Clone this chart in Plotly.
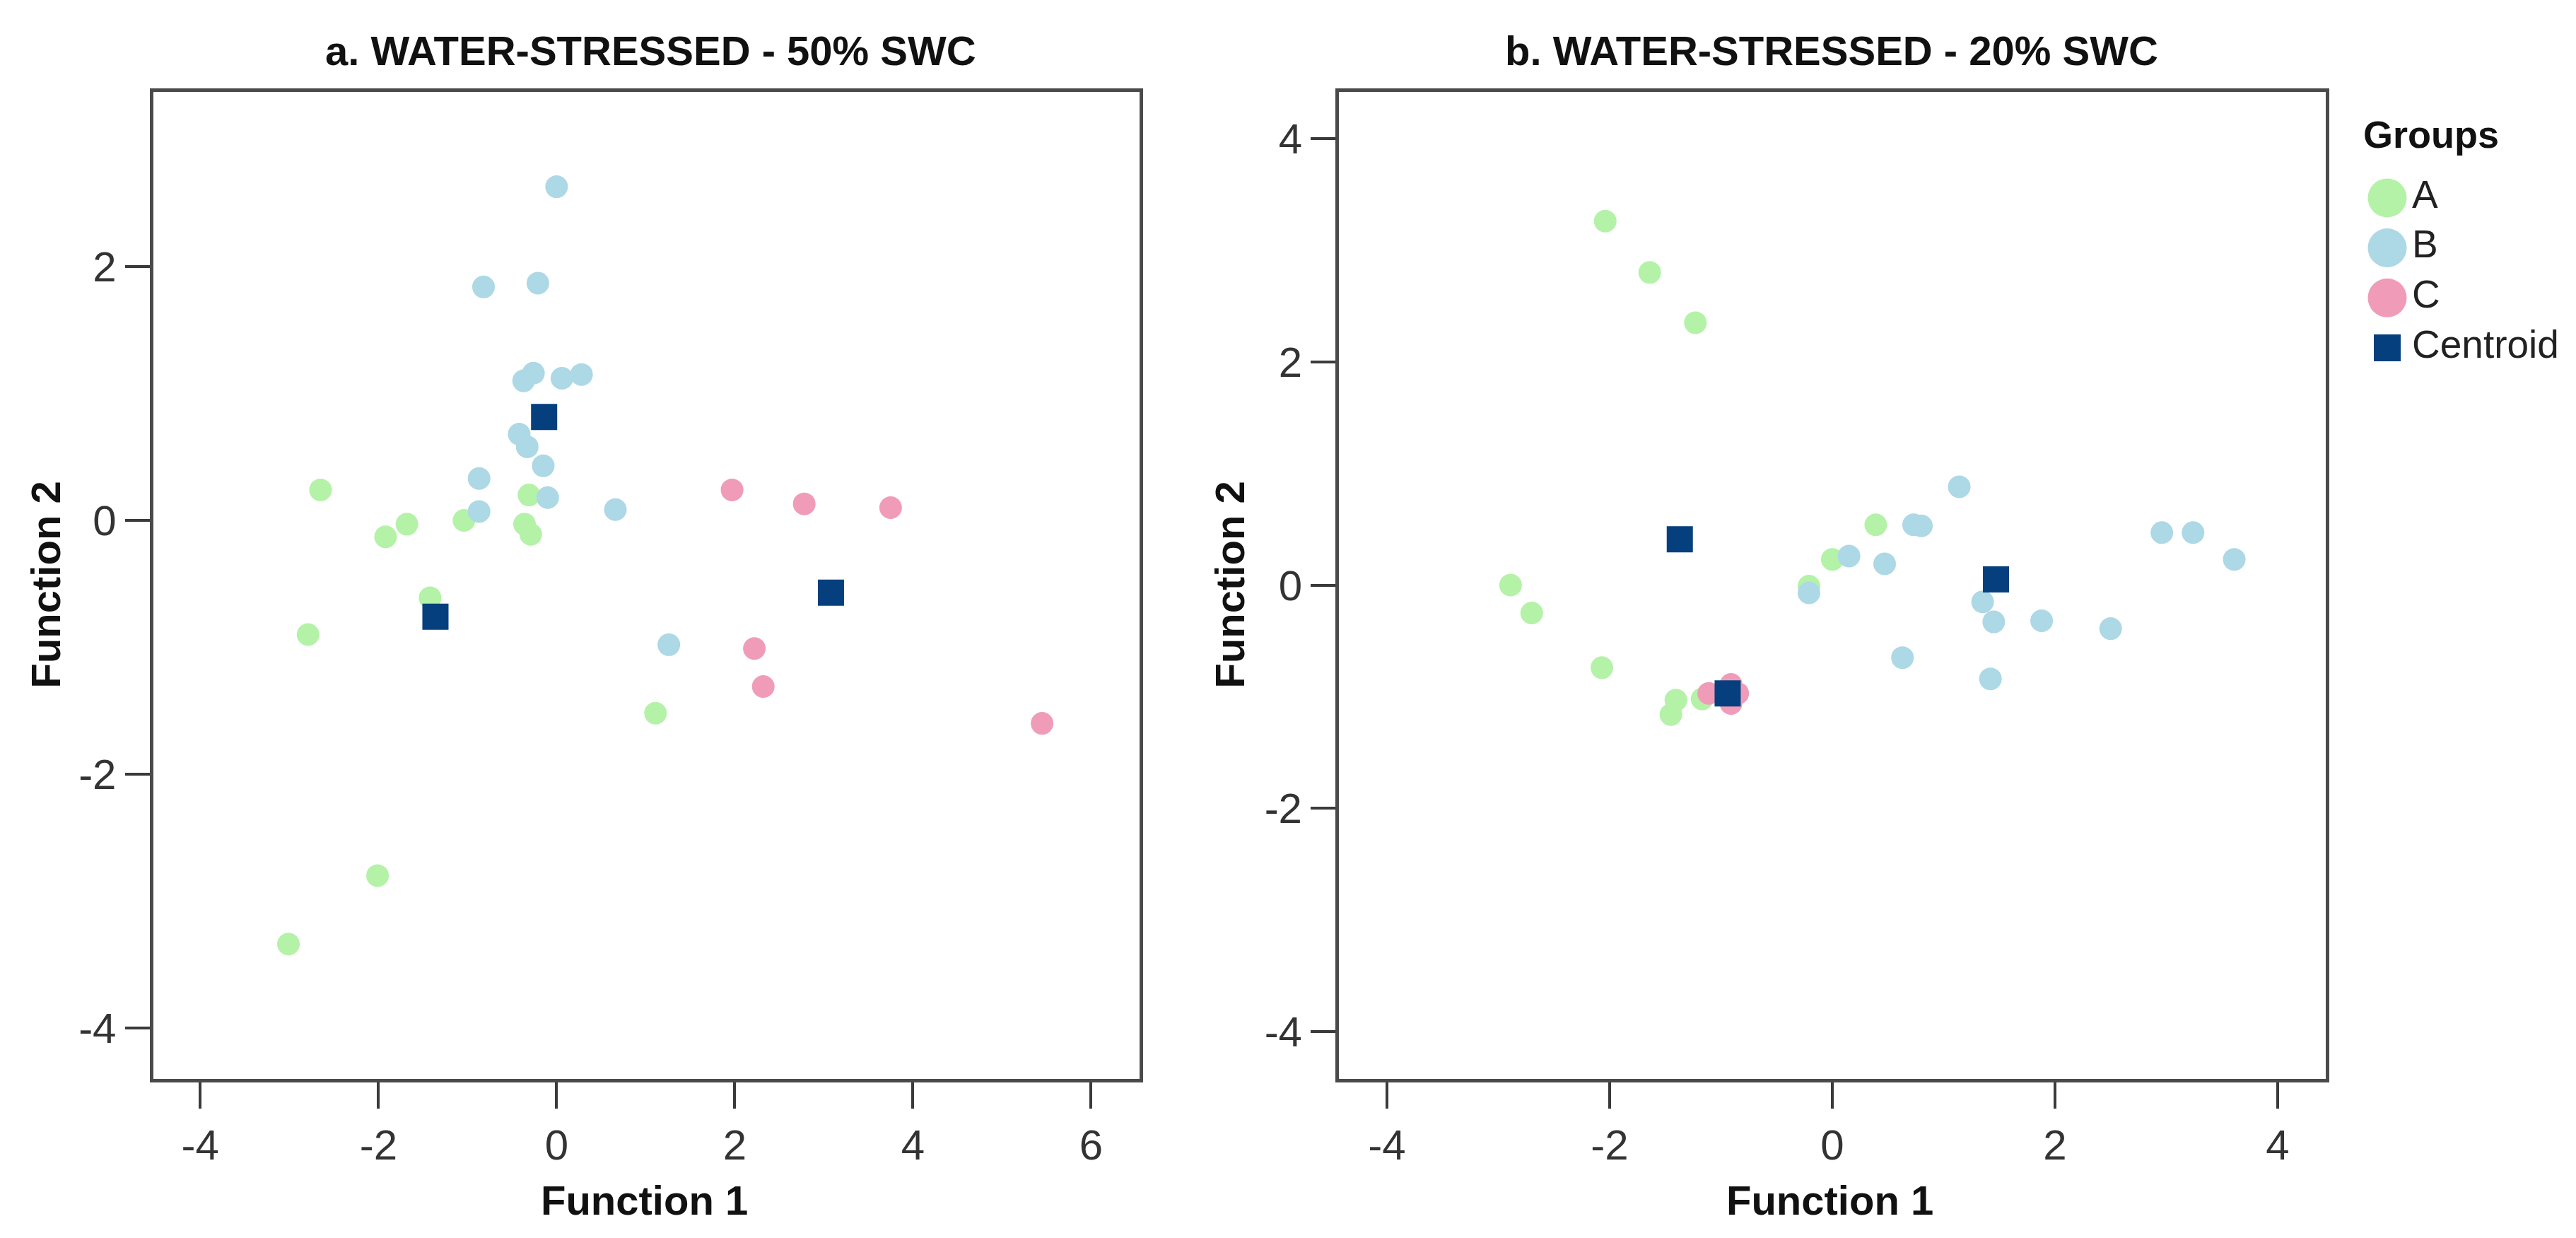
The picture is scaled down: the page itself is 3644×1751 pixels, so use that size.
import plotly.graph_objects as go

# ------------------------------------------------------------------
# Data
# ------------------------------------------------------------------
groups = ["A", "B", "C"]
legend_items = ["A", "B", "C", "Centroid"]

# a. WATER-STRESSED - 50% SWC
a_A_x = [-2.65, -0.31, -1.68, -1.92, -1.04, -0.36, -0.29, -1.42, -2.79, 1.11, -2.01, -3.01]
a_A_y = [0.24, 0.20, -0.03, -0.13, 0.00, -0.03, -0.11, -0.61, -0.90, -1.52, -2.80, -3.34]
a_B_x = [0.00, -0.82, -0.21, -0.37, -0.26, 0.06, 0.28, -0.42, -0.33, -0.15, -0.87, -0.10, -0.87, 0.66, 1.26]
a_B_y = [2.63, 1.84, 1.87, 1.10, 1.16, 1.12, 1.15, 0.68, 0.58, 0.43, 0.33, 0.18, 0.07, 0.085, -0.98]
a_C_x = [1.97, 2.78, 3.75, 2.22, 2.32, 5.45]
a_C_y = [0.24, 0.13, 0.10, -1.01, -1.31, -1.60]
a_cent_x = [-1.36, -0.14, 3.08]
a_cent_y = [-0.76, 0.815, -0.57]

# b. WATER-STRESSED - 20% SWC
b_A_x = [-2.04, -1.64, -1.23, 0.39, 0.00, -2.89, -2.70, -0.21, -2.07, -1.405, -1.45, -1.17]
b_A_y = [3.26, 2.80, 2.35, 0.54, 0.23, 0.00, -0.25, -0.01, -0.74, -1.03, -1.16, -1.02]
b_B_x = [1.14, 0.73, 0.80, 0.15, 0.47, -0.21, 2.96, 3.24, 3.61, 1.35, 1.45, 1.88, 2.50, 0.63, 1.42]
b_B_y = [0.88, 0.54, 0.53, 0.26, 0.19, -0.07, 0.47, 0.47, 0.23, -0.15, -0.33, -0.32, -0.39, -0.65, -0.84]
b_C_x = [-1.11, -0.91, -0.91, -0.85]
b_C_y = [-0.97, -0.89, -1.06, -0.97]
b_cent_x = [-1.37, 1.47, -0.94]
b_cent_y = [0.41, 0.05, -0.97]

a_xticks = [-4, -2, 0, 2, 4, 6]
a_yticks = [-4, -2, 0, 2]
b_xticks = [-4, -2, 0, 2, 4]
b_yticks = [-4, -2, 0, 2, 4]

titles = ["a. WATER-STRESSED - 50% SWC", "b. WATER-STRESSED - 20% SWC"]

# ------------------------------------------------------------------
# Styling
# ------------------------------------------------------------------
W, H = 3644, 1751
FONT = "Liberation Sans, Arial, sans-serif"
colors = {"A": "#b4f2a8", "B": "#add8e6", "C": "#f09cb8", "Centroid": "#063f7d"}
DOT = 32
SQUARE = 37


def px(x):
    return x / W


def py(y):
    return 1 - y / H


panel_y = [py(1517.5), py(121.5)]
panels = [
    dict(xdom=[px(208.5), px(1603.5)], xr=[-4.53, 6.54], yr=[-4.40, 3.38],
         xt=a_xticks, yt=a_yticks, title_x=912, ylab_x=56, xlab_x=903),
    dict(xdom=[px(1886), px(3282)], xr=[-4.432, 4.432], yr=[-4.42, 4.42],
         xt=b_xticks, yt=b_yticks, title_x=2583, ylab_x=1731, xlab_x=2580),
]

data_sets = [
    {"A": (a_A_x, a_A_y), "B": (a_B_x, a_B_y), "C": (a_C_x, a_C_y), "Centroid": (a_cent_x, a_cent_y)},
    {"A": (b_A_x, b_A_y), "B": (b_B_x, b_B_y), "C": (b_C_x, b_C_y), "Centroid": (b_cent_x, b_cent_y)},
]

fig = go.Figure()

for i, ds in enumerate(data_sets):
    xa = "x" if i == 0 else "x2"
    ya = "y" if i == 0 else "y2"
    for g in groups:
        xs, ys = ds[g]
        fig.add_trace(go.Scatter(
            x=xs, y=ys, mode="markers", xaxis=xa, yaxis=ya, showlegend=False,
            marker=dict(size=DOT, color=colors[g], symbol="circle", opacity=1, line=dict(width=0)),
        ))
    xs, ys = ds["Centroid"]
    fig.add_trace(go.Scatter(
        x=xs, y=ys, mode="markers", xaxis=xa, yaxis=ya, showlegend=False,
        marker=dict(size=SQUARE, color=colors["Centroid"], symbol="square", opacity=1, line=dict(width=0)),
    ))

# legend drawn as a small extra scatter so the keys keep their large size
LEG_MARK_X = 29
LEG_TEXT_X = 64
fig.add_trace(go.Scatter(
    x=[LEG_MARK_X] * len(legend_items), y=legend_items, mode="markers",
    xaxis="x3", yaxis="y3", showlegend=False,
    marker=dict(size=[55, 55, 55, 38], color=[colors[k] for k in legend_items],
                symbol=["circle", "circle", "circle", "square"], opacity=1, line=dict(width=0)),
))
fig.add_trace(go.Scatter(
    x=[LEG_TEXT_X] * len(legend_items), y=legend_items, mode="text",
    text=legend_items, textposition="middle right",
    textfont=dict(family=FONT, size=55, color="#222222"),
    xaxis="x3", yaxis="y3", showlegend=False,
))


def axis(rng, dom, ticks, anchor, ticklen):
    return dict(
        range=rng, domain=dom, anchor=anchor,
        tickmode="array", tickvals=ticks, ticktext=[str(t) for t in ticks],
        showgrid=False, zeroline=False,
        showline=True, mirror=True, linecolor="#4a4a4a", linewidth=5,
        ticks="outside", ticklen=ticklen, tickwidth=4, tickcolor="#3a3a3a",
        tickfont=dict(family=FONT, size=60, color="#333333"),
        fixedrange=True,
    )


layout = dict(
    width=W, height=H,
    margin=dict(l=0, r=0, t=0, b=0),
    paper_bgcolor="white", plot_bgcolor="white",
    showlegend=False,
    xaxis=axis(panels[0]["xr"], panels[0]["xdom"], panels[0]["xt"], "y", 37),
    yaxis=axis(panels[0]["yr"], panel_y, panels[0]["yt"], "x", 35),
    xaxis2=axis(panels[1]["xr"], panels[1]["xdom"], panels[1]["xt"], "y2", 37),
    yaxis2=axis(panels[1]["yr"], panel_y, panels[1]["yt"], "x2", 35),
    xaxis3=dict(domain=[px(3340), px(3640)], range=[0, 300], visible=False,
                anchor="y3", fixedrange=True),
    yaxis3=dict(domain=[py(519.3), py(236.6)], type="category",
                categoryorder="array", categoryarray=legend_items[::-1],
                range=[-0.5, 3.5], visible=False, anchor="x3", fixedrange=True),
)
fig.update_layout(**layout)

annotations = []
for i, p in enumerate(panels):
    annotations.append(dict(
        text="<b>%s</b>" % titles[i], x=px(p["title_x"]), y=py(63),
        xref="paper", yref="paper", xanchor="center", yanchor="middle",
        showarrow=False, font=dict(family=FONT, size=58, color="#111111"),
    ))
    annotations.append(dict(
        text="<b>Function 2</b>", x=px(p["ylab_x"]), y=py(819.5), textangle=-90,
        xref="paper", yref="paper", xanchor="center", yanchor="middle",
        showarrow=False, font=dict(family=FONT, size=58, color="#111111"),
    ))
    annotations.append(dict(
        text="<b>Function 1</b>", x=px(p["xlab_x"]), y=py(1689),
        xref="paper", yref="paper", xanchor="center", yanchor="middle",
        showarrow=False, font=dict(family=FONT, size=58, color="#111111"),
    ))
annotations.append(dict(
    text="<b>Groups</b>", x=px(3333), y=py(182),
    xref="paper", yref="paper", xanchor="left", yanchor="middle",
    showarrow=False, font=dict(family=FONT, size=54, color="#111111"),
))
fig.update_layout(annotations=annotations)

fig.write_html("out.html")
